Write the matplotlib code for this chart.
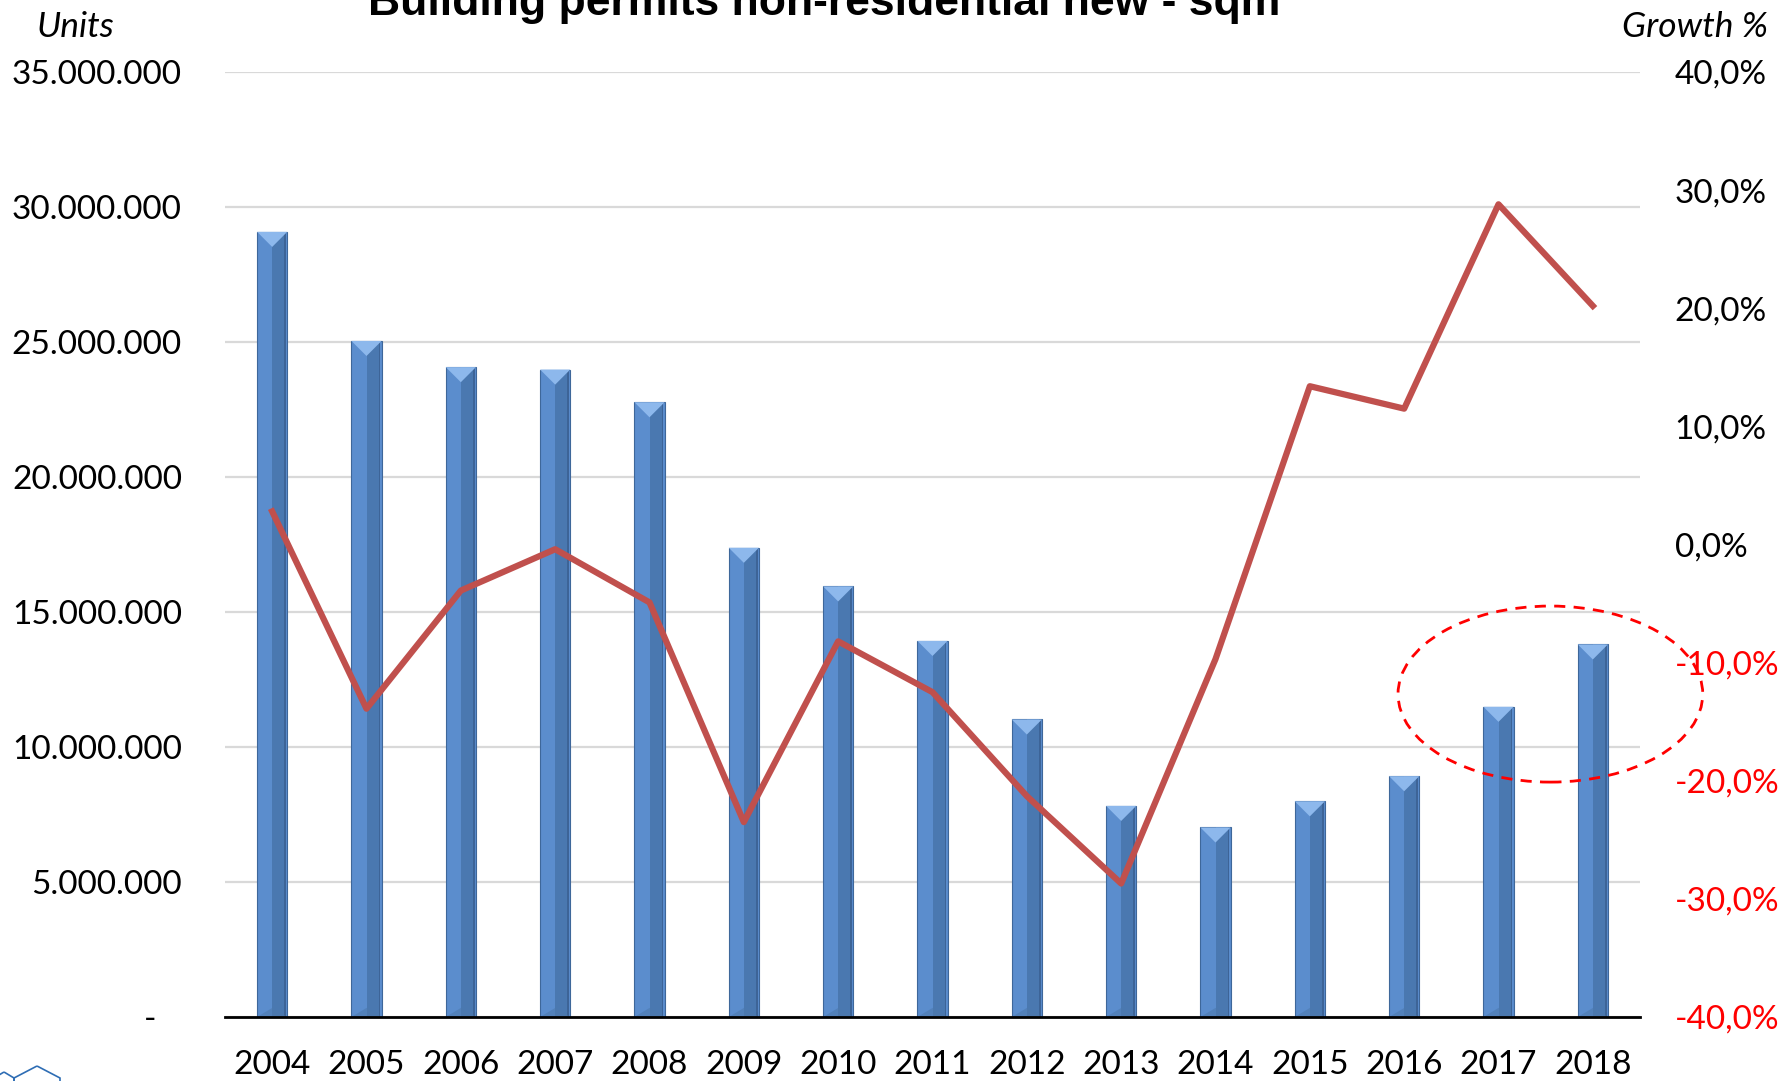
import matplotlib
matplotlib.use("Agg")
import matplotlib.pyplot as plt
from matplotlib.patches import Polygon, Ellipse
import numpy as np

years = ["2004", "2005", "2006", "2007", "2008", "2009", "2010", "2011",
         "2012", "2013", "2014", "2015", "2016", "2017", "2018"]
units = [29.08e6, 25.04e6, 24.07e6, 23.98e6, 22.77e6, 17.38e6, 15.95e6, 13.93e6,
         11.02e6, 7.82e6, 7.02e6, 7.99e6, 8.92e6, 11.49e6, 13.80e6]
growth = [2.8, -13.9, -3.9, -0.4, -4.9, -23.5, -8.2, -12.5,
          -21.3, -28.7, -9.7, 13.4, 11.5, 28.8, 20.2]
left_ticks = [0, 5e6, 10e6, 15e6, 20e6, 25e6, 30e6, 35e6]
left_labels = ["-   ", "5.000.000", "10.000.000", "15.000.000", "20.000.000",
               "25.000.000", "30.000.000", "35.000.000"]
right_ticks = [-40, -30, -20, -10, 0, 10, 20, 30, 40]
right_labels = ["-40,0%", "-30,0%", "-20,0%", "-10,0%", "0,0%",
                "10,0%", "20,0%", "30,0%", "40,0%"]
title = "Building permits non-residential new - sqm"

W, H = 1782, 1081
fig = plt.figure(figsize=(W / 100, H / 100), dpi=100)
ax = fig.add_axes([225 / W, 1 - 1017 / H, (1640 - 225) / W, (1017 - 72) / H])

x = np.arange(len(years))
bw = 0.32
ax.set_xlim(-0.5, len(years) - 0.5)
ax.set_ylim(0, 35e6)

# bars
ax.bar(x, units, width=bw, color="#5B8DCD", edgecolor="#3E679A", linewidth=0.8, zorder=3)
ax.bar(x + bw * 0.22, units, width=bw * 0.44, color="#4A78B0", linewidth=0, zorder=3.1)
ax.bar(x + bw * 0.43, units, width=bw * 0.06, color="#3D6497", linewidth=0, zorder=3.2)

# bevel cap triangles
fig.canvas.draw()
p0 = ax.transData.transform((0, 0))
p1 = ax.transData.transform((1, 1e6))
px_per_x = p1[0] - p0[0]
px_per_y = (p1[1] - p0[1]) / 1e6
tri_h = (bw / 2) * px_per_x / px_per_y
for xi, v in zip(x, units):
    ax.add_patch(Polygon([(xi - bw / 2, v), (xi + bw / 2, v), (xi, v - tri_h)],
                         closed=True, facecolor="#8DB8EC", edgecolor="none", zorder=3.3))
    ax.add_patch(Polygon([(xi - bw / 2, 0), (xi + bw / 2, 0), (xi, tri_h * 0.6)],
                         closed=True, facecolor="#4C79AE", edgecolor="none", zorder=3.3, alpha=0.6))

ax.set_yticks(left_ticks)
ax.set_yticklabels(left_labels)
ax.set_xticks(x)
ax.set_xticklabels(years)
ax.grid(axis="y", color="#D9D9D9", linewidth=1.6, zorder=0)
ax.set_axisbelow(True)
for s in ["top", "right", "left"]:
    ax.spines[s].set_visible(False)
ax.spines["bottom"].set_color("black")
ax.spines["bottom"].set_linewidth(2)
ax.spines["bottom"].set_zorder(5)
ax.tick_params(axis="both", length=0)
ax.tick_params(axis="y", pad=31)
ax.tick_params(axis="x", pad=24)
for lab in ax.get_yticklabels() + ax.get_xticklabels():
    lab.set_fontfamily("Lato")
    lab.set_fontsize(24)
    lab.set_color("black")

ax2 = ax.twinx()
ax2.set_ylim(-40, 40)
ax2.plot(x, growth, color="#C0504D", linewidth=4.5, zorder=6, solid_joinstyle="round")
ax2.set_yticks(right_ticks)
ax2.set_yticklabels(right_labels)
for s in ax2.spines.values():
    s.set_visible(False)
ax2.tick_params(axis="y", length=0, pad=25)
for t, lab in zip(right_ticks, ax2.get_yticklabels()):
    lab.set_fontfamily("Lato")
    lab.set_fontsize(24)
    lab.set_color("#FF0000" if t < 0 else "black")

# dashed ellipse highlight
el = Ellipse((13.55, 11.96e6), 3.23, 6.52e6, fill=False, edgecolor="#FF0000",
             linestyle=(0, (4, 3)), linewidth=2, clip_on=False, zorder=7)
ax.add_patch(el)

fig.text(824 / W, 1 - 15 / H, title, ha="center", va="baseline",
         fontfamily="Liberation Sans", fontweight="bold", fontsize=32)
fig.text(75 / W, 1 - 27 / H, "Units", ha="center", va="center",
         fontfamily="Lato", fontstyle="italic", fontsize=25.5)
fig.text(1768 / W, 1 - 27 / H, "Growth %", ha="right", va="center",
         fontfamily="Lato", fontstyle="italic", fontsize=25.5)

# partial logo at bottom-left corner
def px(pts):
    return [(a / W, 1 - b / H) for a, b in pts]
hexa = px([(37, 1066), (60, 1078), (60, 1104), (37, 1116), (14, 1104), (14, 1078)])
fig.patches.append(Polygon(hexa, closed=True, fill=False, edgecolor="#2E6DB4",
                           linewidth=1.2, transform=fig.transFigure, figure=fig))
hexb = px([(4, 1072), (14, 1078), (14, 1090), (4, 1096), (-6, 1090), (-6, 1078)])
fig.patches.append(Polygon(hexb, closed=True, fill=False, edgecolor="#2E6DB4",
                           linewidth=1.2, transform=fig.transFigure, figure=fig))

fig.savefig("out.png", dpi=100)
